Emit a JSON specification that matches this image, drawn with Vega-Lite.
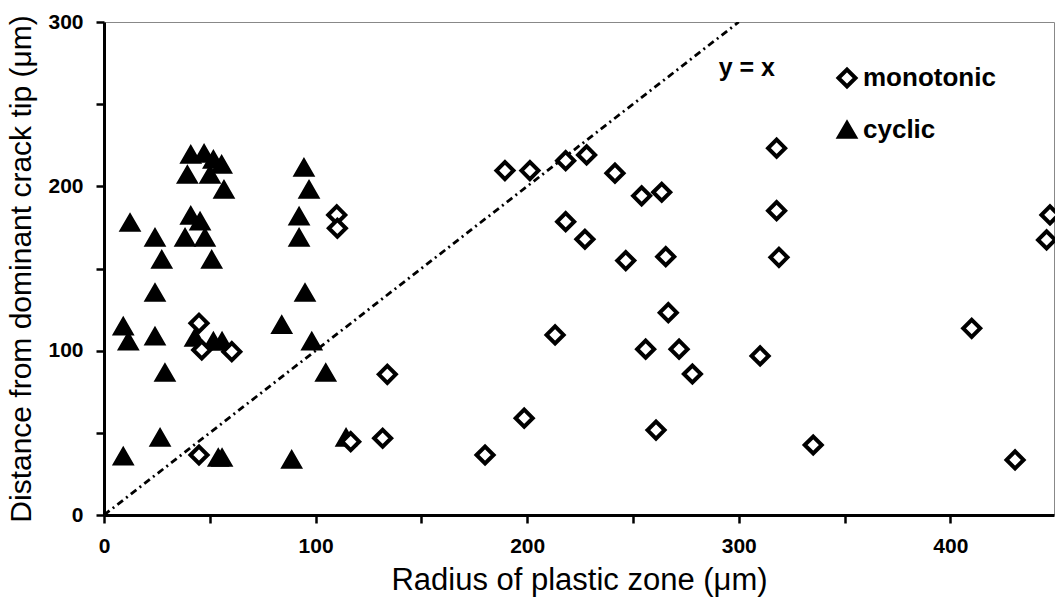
{
  "$schema": "https://vega.github.io/schema/vega-lite/v6.json",
  "width": 950,
  "height": 493,
  "autosize": "none",
  "padding": {"left": 104, "top": 22, "right": 1, "bottom": 85},
  "background": "white",
  "config": {
    "view": {"stroke": "#888888", "strokeWidth": 1},
    "font": "Liberation Sans"
  },
  "datasets": {
    "pts": [
      {"r": 41.0, "d": 219.1, "loading": "cyclic"},
      {"r": 47.3, "d": 219.7, "loading": "cyclic"},
      {"r": 51.7, "d": 216.1, "loading": "cyclic"},
      {"r": 55.6, "d": 213.0, "loading": "cyclic"},
      {"r": 39.4, "d": 206.9, "loading": "cyclic"},
      {"r": 50.1, "d": 206.9, "loading": "cyclic"},
      {"r": 56.7, "d": 197.8, "loading": "cyclic"},
      {"r": 94.5, "d": 211.2, "loading": "cyclic"},
      {"r": 96.9, "d": 197.8, "loading": "cyclic"},
      {"r": 12.3, "d": 177.7, "loading": "cyclic"},
      {"r": 41.0, "d": 182.0, "loading": "cyclic"},
      {"r": 45.4, "d": 178.5, "loading": "cyclic"},
      {"r": 24.1, "d": 168.6, "loading": "cyclic"},
      {"r": 38.3, "d": 168.6, "loading": "cyclic"},
      {"r": 47.7, "d": 168.6, "loading": "cyclic"},
      {"r": 27.3, "d": 155.2, "loading": "cyclic"},
      {"r": 50.9, "d": 155.2, "loading": "cyclic"},
      {"r": 92.2, "d": 181.6, "loading": "cyclic"},
      {"r": 92.2, "d": 168.6, "loading": "cyclic"},
      {"r": 24.1, "d": 135.1, "loading": "cyclic"},
      {"r": 95.0, "d": 135.1, "loading": "cyclic"},
      {"r": 9.1, "d": 114.6, "loading": "cyclic"},
      {"r": 24.1, "d": 108.5, "loading": "cyclic"},
      {"r": 11.5, "d": 105.5, "loading": "cyclic"},
      {"r": 43.0, "d": 107.7, "loading": "cyclic"},
      {"r": 51.7, "d": 105.5, "loading": "cyclic"},
      {"r": 55.8, "d": 105.5, "loading": "cyclic"},
      {"r": 84.0, "d": 115.6, "loading": "cyclic"},
      {"r": 98.2, "d": 105.5, "loading": "cyclic"},
      {"r": 28.8, "d": 86.4, "loading": "cyclic"},
      {"r": 104.8, "d": 86.4, "loading": "cyclic"},
      {"r": 26.5, "d": 46.9, "loading": "cyclic"},
      {"r": 114.4, "d": 46.9, "loading": "cyclic"},
      {"r": 9.1, "d": 35.5, "loading": "cyclic"},
      {"r": 54.0, "d": 34.7, "loading": "cyclic"},
      {"r": 55.8, "d": 34.7, "loading": "cyclic"},
      {"r": 88.7, "d": 33.5, "loading": "cyclic"},
      {"r": 110.0, "d": 182.6, "loading": "monotonic"},
      {"r": 110.3, "d": 174.5, "loading": "monotonic"},
      {"r": 44.9, "d": 116.7, "loading": "monotonic"},
      {"r": 46.2, "d": 100.4, "loading": "monotonic"},
      {"r": 60.4, "d": 99.4, "loading": "monotonic"},
      {"r": 133.9, "d": 85.6, "loading": "monotonic"},
      {"r": 116.6, "d": 44.6, "loading": "monotonic"},
      {"r": 131.7, "d": 46.7, "loading": "monotonic"},
      {"r": 44.9, "d": 36.5, "loading": "monotonic"},
      {"r": 189.5, "d": 209.6, "loading": "monotonic"},
      {"r": 201.3, "d": 209.6, "loading": "monotonic"},
      {"r": 218.2, "d": 215.6, "loading": "monotonic"},
      {"r": 228.1, "d": 219.1, "loading": "monotonic"},
      {"r": 241.5, "d": 208.0, "loading": "monotonic"},
      {"r": 254.1, "d": 194.2, "loading": "monotonic"},
      {"r": 263.6, "d": 196.4, "loading": "monotonic"},
      {"r": 218.2, "d": 178.5, "loading": "monotonic"},
      {"r": 227.3, "d": 167.8, "loading": "monotonic"},
      {"r": 246.6, "d": 154.8, "loading": "monotonic"},
      {"r": 265.5, "d": 157.2, "loading": "monotonic"},
      {"r": 266.7, "d": 123.1, "loading": "monotonic"},
      {"r": 213.2, "d": 109.6, "loading": "monotonic"},
      {"r": 256.0, "d": 100.9, "loading": "monotonic"},
      {"r": 271.8, "d": 100.9, "loading": "monotonic"},
      {"r": 278.1, "d": 85.8, "loading": "monotonic"},
      {"r": 310.1, "d": 96.8, "loading": "monotonic"},
      {"r": 198.6, "d": 58.9, "loading": "monotonic"},
      {"r": 260.9, "d": 51.7, "loading": "monotonic"},
      {"r": 180.1, "d": 36.5, "loading": "monotonic"},
      {"r": 317.9, "d": 223.2, "loading": "monotonic"},
      {"r": 317.9, "d": 185.2, "loading": "monotonic"},
      {"r": 319.0, "d": 156.8, "loading": "monotonic"},
      {"r": 410.1, "d": 113.6, "loading": "monotonic"},
      {"r": 335.2, "d": 42.6, "loading": "monotonic"},
      {"r": 430.6, "d": 33.5, "loading": "monotonic"},
      {"r": 447.1, "d": 182.6, "loading": "monotonic"},
      {"r": 445.5, "d": 167.4, "loading": "monotonic"}
    ],
    "diag": [{"r": 0, "d": 0}, {"r": 300, "d": 300}],
    "note": [{"r": 290.5, "d": 267, "label": "y = x"}]
  },
  "layer": [
    {
      "data": {"name": "diag"},
      "mark": {"type": "line", "color": "black", "strokeWidth": 2.8, "strokeDash": [7, 4, 2, 4], "clip": true},
      "encoding": {
        "x": {
          "field": "r", "type": "quantitative",
          "scale": {"domain": [0, 449], "nice": false, "zero": false},
          "axis": {
            "title": "Radius of plastic zone (μm)",
            "titleFont": "Liberation Sans", "titleFontSize": 31, "titleFontWeight": "normal", "titleColor": "black",
            "titlePadding": 9,
            "values": [0, 50, 100, 150, 200, 250, 300, 350, 400],
            "labelExpr": "datum.value % 100 === 0 ? datum.label : ''",
            "labelFont": "Liberation Sans", "labelFontSize": 21, "labelFontWeight": "bold", "labelColor": "black",
            "labelPadding": 12, "labelFlush": false,
            "domainColor": "black", "domainWidth": 3,
            "tickColor": "black", "tickWidth": 2.5, "tickSize": 8,
            "grid": false
          }
        },
        "y": {
          "field": "d", "type": "quantitative",
          "scale": {"domain": [0, 300], "nice": false, "zero": false},
          "axis": {
            "title": "Distance from dominant crack tip (μm)",
            "titleFont": "Liberation Sans", "titleFontSize": 30, "titleFontWeight": "normal", "titleColor": "black",
            "titlePadding": 11,
            "values": [0, 50, 100, 150, 200, 250, 300],
            "labelExpr": "datum.value % 100 === 0 ? datum.label : ''",
            "labelFont": "Liberation Sans", "labelFontSize": 21, "labelFontWeight": "bold", "labelColor": "black",
            "labelPadding": 13, "labelFlush": false,
            "domainColor": "black", "domainWidth": 3,
            "tickColor": "black", "tickWidth": 2.5, "tickSize": 8,
            "grid": false
          }
        }
      }
    },
    {
      "mark": {"type": "rule", "color": "black", "strokeWidth": 3},
      "encoding": {"y": {"datum": 300}}
    },
    {
      "data": {"name": "pts"},
      "mark": {"type": "point", "strokeWidth": 4, "stroke": "black", "opacity": 1},
      "encoding": {
        "x": {"field": "r", "type": "quantitative"},
        "y": {"field": "d", "type": "quantitative"},
        "shape": {
          "field": "loading", "type": "nominal",
          "scale": {"domain": ["monotonic", "cyclic"], "range": ["diamond", "triangle-up"]},
          "legend": {
            "orient": "none", "legendX": 730, "legendY": 43, "title": null,
            "labelFont": "Liberation Sans", "labelFontSize": 26, "labelFontWeight": "bold", "labelColor": "black",
            "labelOffset": 3, "rowPadding": 20,
            "symbolStrokeWidth": 4, "symbolStrokeColor": "black"
          }
        },
        "fill": {
          "field": "loading", "type": "nominal",
          "scale": {"domain": ["monotonic", "cyclic"], "range": ["white", "black"]}
        },
        "size": {
          "field": "loading", "type": "nominal",
          "scale": {"domain": ["monotonic", "cyclic"], "range": [290, 250]}
        }
      }
    },
    {
      "data": {"name": "note"},
      "mark": {"type": "text", "font": "Liberation Sans", "fontSize": 25, "fontWeight": "bold", "align": "left", "baseline": "alphabetic", "color": "black"},
      "encoding": {
        "x": {"field": "r", "type": "quantitative"},
        "y": {"field": "d", "type": "quantitative"},
        "text": {"field": "label"}
      }
    }
  ]
}
